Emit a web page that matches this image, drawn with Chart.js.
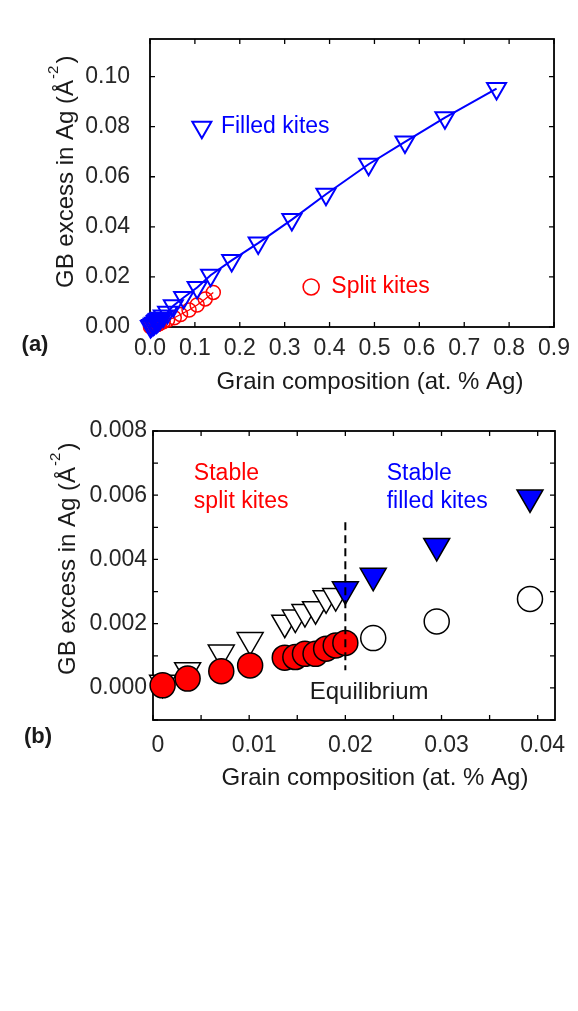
<!DOCTYPE html>
<html>
<head>
<meta charset="utf-8">
<script src="https://cdn.jsdelivr.net/npm/chart.js@4.4.1/dist/chart.umd.min.js"></script>
<style>
body{margin:0;background:#fff;}
#wrap{position:relative;width:578px;height:1011px;background:#fff;}
canvas{position:absolute;left:0;}
#chartA{top:0;}
#chartB{top:400px;}
</style>
</head>
<body>
<div id="wrap">
<canvas id="chartA" width="578" height="400"></canvas>
<canvas id="chartB" width="578" height="420"></canvas>
</div>
<script>
// low composition range (shown in both panels)
const lowX = [0.0010,0.0036,0.0071,0.0101,0.0137,0.0148,0.0158,0.0169,0.0180,0.0190,0.0200,0.0229,0.0295,0.0392];
const filledLowY = [0.00016,0.00055,0.00110,0.00149,0.00203,0.00219,0.00236,0.00245,0.00279,0.00286,0.00307,0.00349,0.00442,0.00593];
const splitLowY = [0.00008,0.00029,0.00052,0.00070,0.00094,0.00096,0.00106,0.00106,0.00122,0.00132,0.00140,0.00155,0.00207,0.00277];
// higher compositions, panel (a) only
const filledHighX = [0.052,0.075,0.105,0.135,0.182,0.241,0.316,0.392,0.487,0.568,0.657,0.772];
const filledHighY = [0.0085,0.0118,0.0158,0.0207,0.0266,0.0335,0.0429,0.0530,0.0650,0.0739,0.0836,0.0952];
const splitHighX = [0.054,0.068,0.087,0.105,0.123,0.141];
const splitHighY = [0.0037,0.0050,0.0068,0.0088,0.0112,0.0138];
const equilibriumX = 0.02;

const xTicksA = [0,0.1,0.2,0.3,0.4,0.5,0.6,0.7,0.8,0.9];
const yTicksA = [0,0.02,0.04,0.06,0.08,0.10];

const BLUE = '#0000ff';
const RED = '#ff0000';
const FONT = '"Liberation Sans", Arial, sans-serif';
const TXT = '#1a1a1a';

function pts(xs, ys) {
    return xs.map((x, i) => ({x: x, y: ys[i]}));
}

function tri(ctx, x, y, r) {
    let rad = Math.PI;
    ctx.beginPath();
    for (let k = 0; k < 3; k++) {
        const px = x + Math.sin(rad) * r, py = y - Math.cos(rad) * r;
        if (k === 0) ctx.moveTo(px, py); else ctx.lineTo(px, py);
        rad += 2 * Math.PI / 3;
    }
    ctx.closePath();
}

function drawYTitle(ctx, x, y) {
    ctx.save();
    ctx.translate(x, y);
    ctx.rotate(-Math.PI / 2);
    ctx.fillStyle = TXT;
    ctx.textAlign = 'left';
    ctx.textBaseline = 'alphabetic';
    ctx.font = '24px ' + FONT;
    const s = 'GB excess in Ag (Å';
    ctx.fillText(s, 0, 0);
    const w = ctx.measureText(s).width;
    ctx.font = '15px ' + FONT;
    ctx.fillText('-2', w + 1, -15);
    const w2 = ctx.measureText('-2').width;
    ctx.font = '24px ' + FONT;
    ctx.fillText(')', w + w2 + 3, 0);
    ctx.restore();
}

// box + inward tick marks on all four sides
const framePlugin = {
    id: 'frame',
    beforeDatasetsDraw(chart) {
        const ctx = chart.ctx, a = chart.chartArea;
        const sx = chart.scales.x, sy = chart.scales.y;
        ctx.save();
        ctx.strokeStyle = '#000';
        ctx.lineWidth = 1.3;
        sx.ticks.forEach(t => {
            const p = sx.getPixelForValue(t.value);
            ctx.beginPath();
            ctx.moveTo(p, a.bottom); ctx.lineTo(p, a.bottom - 5);
            ctx.moveTo(p, a.top); ctx.lineTo(p, a.top + 5);
            ctx.stroke();
        });
        sy.ticks.forEach(t => {
            const p = sy.getPixelForValue(t.value);
            ctx.beginPath();
            ctx.moveTo(a.left, p); ctx.lineTo(a.left + 5, p);
            ctx.moveTo(a.right, p); ctx.lineTo(a.right - 5, p);
            ctx.stroke();
        });
        ctx.lineWidth = 1.8;
        ctx.strokeRect(a.left, a.top, a.right - a.left, a.bottom - a.top);
        ctx.restore();
    }
};

function scaleOpts(min, max, step, pad, fmt) {
    return {
        type: 'linear', min: min, max: max,
        grid: {display: false, drawTicks: false},
        border: {display: false},
        ticks: {stepSize: step, includeBounds: false, autoSkip: false, maxRotation: 0,
            padding: pad, color: '#262626', font: {family: FONT, size: 23}, callback: fmt}
    };
}

// ---- panel (a)
const annotA = {
    id: 'annotA',
    afterDraw(chart) {
        const ctx = chart.ctx, sx = chart.scales.x, sy = chart.scales.y;
        ctx.save();
        ctx.font = '23px ' + FONT;
        ctx.textBaseline = 'middle';
        ctx.textAlign = 'left';
        // legend entries
        ctx.strokeStyle = BLUE; ctx.lineWidth = 2;
        tri(ctx, sx.getPixelForValue(0.1155), sy.getPixelForValue(0.0798), 11);
        ctx.stroke();
        ctx.fillStyle = BLUE;
        ctx.fillText('Filled kites', sx.getPixelForValue(0.158), sy.getPixelForValue(0.0798));
        ctx.strokeStyle = RED; ctx.lineWidth = 1.6;
        ctx.beginPath();
        ctx.arc(sx.getPixelForValue(0.359), sy.getPixelForValue(0.016), 8, 0, Math.PI * 2);
        ctx.stroke();
        ctx.fillStyle = RED;
        ctx.fillText('Split kites', sx.getPixelForValue(0.404), sy.getPixelForValue(0.016));
        // titles
        ctx.fillStyle = TXT;
        ctx.textAlign = 'center';
        ctx.font = '24px ' + FONT;
        ctx.fillText('Grain composition (at. % Ag)', 370, 382);
        ctx.font = 'bold 22px ' + FONT;
        ctx.fillText('(a)', 35, 345);
        ctx.restore();
        drawYTitle(ctx, 73, 288);
    }
};

new Chart(document.getElementById('chartA'), {
    type: 'scatter',
    data: {
        datasets: [
            {
                label: 'Filled kites',
                data: pts(lowX.concat(filledHighX), filledLowY.concat(filledHighY)),
                showLine: true, borderColor: BLUE, borderWidth: 2,
                pointStyle: 'triangle', rotation: 180, pointRadius: 11,
                pointBorderColor: BLUE, pointBackgroundColor: 'rgba(0,0,0,0)', pointBorderWidth: 2,
                clip: false
            },
            {
                label: 'Split kites',
                data: pts(lowX.concat(splitHighX), splitLowY.concat(splitHighY)),
                showLine: true, borderColor: RED, borderWidth: 1.3,
                pointStyle: 'circle', pointRadius: 7,
                pointBorderColor: RED, pointBackgroundColor: 'rgba(0,0,0,0)', pointBorderWidth: 1.5,
                clip: false
            }
        ]
    },
    options: {
        responsive: false, animation: false, events: [],
        plugins: {legend: {display: false}, tooltip: {enabled: false}},
        layout: {padding: {left: 70, right: 20, top: 39, bottom: 33}},
        scales: {
            x: Object.assign(scaleOpts(xTicksA[0], xTicksA[xTicksA.length - 1], 0.1, 8, v => v.toFixed(1)),
                {afterFit: s => { s.height = 40; }}),
            y: Object.assign(scaleOpts(yTicksA[0], 0.115, 0.02, 20, v => v.toFixed(2)),
                {afterFit: s => { s.width = 80; }})
        }
    },
    plugins: [framePlugin, annotA]
});

// ---- panel (b)
const isStableFilled = x => x >= equilibriumX - 1e-9;
const isStableSplit = x => x <= equilibriumX + 1e-9;
const pick = (ys, test) => lowX.map((x, i) => ({x: x, y: ys[i]})).filter(p => test(p.x));

const annotB = {
    id: 'annotB',
    afterDatasetsDraw(chart) {
        const ctx = chart.ctx, sx = chart.scales.x, sy = chart.scales.y;
        const px = sx.getPixelForValue(equilibriumX);
        ctx.save();
        ctx.strokeStyle = '#000';
        ctx.lineWidth = 2;
        ctx.setLineDash([8, 5]);
        ctx.beginPath();
        ctx.moveTo(px, sy.getPixelForValue(0.00516));
        ctx.lineTo(px, sy.getPixelForValue(0.00055));
        ctx.stroke();
        ctx.restore();
    },
    afterDraw(chart) {
        const ctx = chart.ctx, sx = chart.scales.x, sy = chart.scales.y;
        ctx.save();
        ctx.font = '23px ' + FONT;
        ctx.textBaseline = 'middle';
        ctx.textAlign = 'left';
        ctx.fillStyle = RED;
        ctx.fillText('Stable', sx.getPixelForValue(0.00425), sy.getPixelForValue(0.00668));
        ctx.fillText('split kites', sx.getPixelForValue(0.00425), sy.getPixelForValue(0.00579));
        ctx.fillStyle = BLUE;
        ctx.fillText('Stable', sx.getPixelForValue(0.0243), sy.getPixelForValue(0.00668));
        ctx.fillText('filled kites', sx.getPixelForValue(0.0243), sy.getPixelForValue(0.00579));
        ctx.fillStyle = TXT;
        ctx.font = '24px ' + FONT;
        ctx.fillText('Equilibrium', sx.getPixelForValue(0.0163), sy.getPixelForValue(-0.00013));
        ctx.textAlign = 'center';
        ctx.fillText('Grain composition (at. % Ag)', 375, 378);
        ctx.font = 'bold 22px ' + FONT;
        ctx.fillText('(b)', 38, 337);
        ctx.restore();
        drawYTitle(ctx, 75, 275);
    }
};

new Chart(document.getElementById('chartB'), {
    type: 'scatter',
    data: {
        datasets: [
            {
                label: 'Stable split kites',
                data: pick(splitLowY, isStableSplit),
                pointStyle: 'circle', pointRadius: 12.5,
                pointBackgroundColor: RED, pointBorderColor: '#000', pointBorderWidth: 1.5,
                clip: false
            },
            {
                label: 'Metastable split kites',
                data: pick(splitLowY, x => !isStableSplit(x)),
                pointStyle: 'circle', pointRadius: 12.5,
                pointBackgroundColor: '#fff', pointBorderColor: '#000', pointBorderWidth: 1.5,
                clip: false
            },
            {
                label: 'Stable filled kites',
                data: pick(filledLowY, isStableFilled),
                pointStyle: 'triangle', rotation: 180, pointRadius: 15,
                pointBackgroundColor: BLUE, pointBorderColor: '#000', pointBorderWidth: 1.5,
                clip: false
            },
            {
                label: 'Metastable filled kites',
                data: pick(filledLowY, x => !isStableFilled(x)),
                pointStyle: 'triangle', rotation: 180, pointRadius: 15,
                pointBackgroundColor: '#fff', pointBorderColor: '#000', pointBorderWidth: 1.5,
                clip: false
            }
        ]
    },
    options: {
        responsive: false, animation: false, events: [],
        plugins: {legend: {display: false}, tooltip: {enabled: false}},
        layout: {padding: {left: 65, right: 23, top: 31, bottom: 60}},
        scales: {
            x: Object.assign(scaleOpts(0, 0.0418, 0.005, 12,
                    v => Math.round(v * 1000) % 10 === 0 ? (v === 0 ? '0' : v.toFixed(2)) : ''),
                {afterFit: s => { s.height = 40; }}),
            y: Object.assign(scaleOpts(-0.001, 0.008, 0.001, 6,
                    v => Math.round(v * 1000) % 2 === 0 && v >= 0 ? v.toFixed(3) : ''),
                {afterFit: s => { s.width = 88; }})
        }
    },
    plugins: [framePlugin, annotB]
});
// nudge (b) x labels right like the original figure
Chart.getChart('chartB').options.scales.x.ticks.labelOffset = 5;
Chart.getChart('chartB').update();
</script>
</body>
</html>
